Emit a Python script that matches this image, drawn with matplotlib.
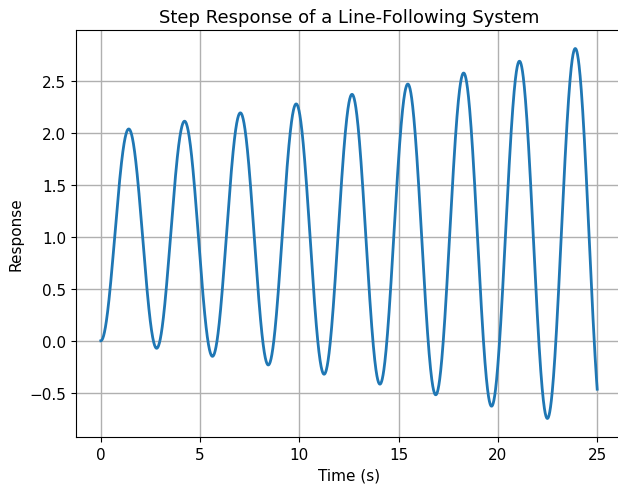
"""
Step response of a line-following system (slightly unstable 2nd-order loop)
"""
import numpy as np
import matplotlib
matplotlib.use("Agg")
import matplotlib.pyplot as plt

# parameters
t_end      = 25.0     # s
n_samples  = 2500
omega_d    = 2.235    # rad/s, damped frequency (period ~2.81 s)
sigma      = 0.0248   # 1/s, growth rate of the oscillation
step_level = 1.0

title  = "Step Response of a Line-Following System"
xlabel = "Time (s)"
ylabel = "Response"

# closed-loop: y'' + 2*zeta*wn*y' + wn^2*y = wn^2*u  (zeta < 0)
wn   = np.sqrt(omega_d**2 + sigma**2)
zeta = -sigma / wn

t = np.linspace(0, t_end, n_samples)
dt = t[1] - t[0]
y = np.zeros_like(t); v = 0.0
for i in range(1, len(t)):
    # semi-implicit RK4 step
    def f(yy, vv):
        return vv, wn**2 * (step_level - yy) - 2 * zeta * wn * vv
    y0, v0 = y[i-1], v
    k1 = f(y0, v0)
    k2 = f(y0 + dt/2*k1[0], v0 + dt/2*k1[1])
    k3 = f(y0 + dt/2*k2[0], v0 + dt/2*k2[1])
    k4 = f(y0 + dt*k3[0], v0 + dt*k3[1])
    y[i] = y0 + dt/6*(k1[0] + 2*k2[0] + 2*k3[0] + k4[0])
    v    = v0 + dt/6*(k1[1] + 2*k2[1] + 2*k3[1] + k4[1])

fig = plt.figure(figsize=(6.18, 4.85), dpi=100)
ax = fig.add_axes([0.123, 0.097, 0.8835, 0.839])
ax.plot(t, y, color="#1f77b4", linewidth=2)
ax.set_xlim(-1.25, 26.25)
ax.set_title(title, fontsize=13)
ax.set_xlabel(xlabel, fontsize=11)
ax.set_ylabel(ylabel, fontsize=11)
ax.tick_params(labelsize=11)
ax.grid(True, color="#b0b0b0", linewidth=1)
fig.savefig("out.png", dpi=100)
